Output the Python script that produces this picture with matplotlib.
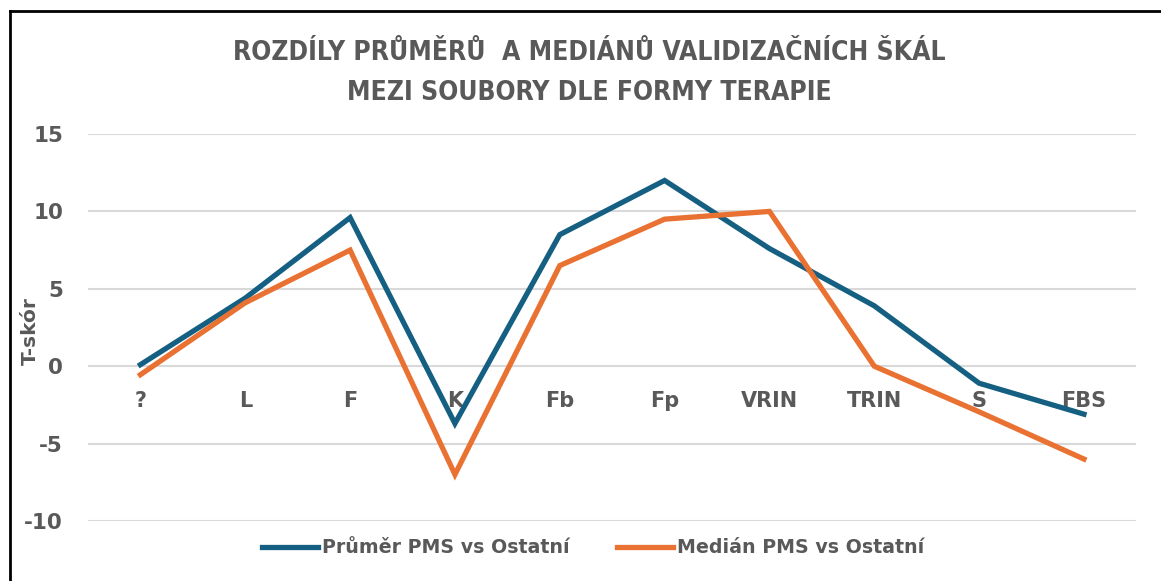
import matplotlib.pyplot as plt
from matplotlib.lines import Line2D

categories = ["?", "L", "F", "K", "Fb", "Fp", "VRIN", "TRIN", "S", "FBS"]
prumer = [0.1, 4.4, 9.6, -3.7, 8.5, 12.0, 7.6, 3.9, -1.1, -3.1]
median = [-0.55, 4.1, 7.5, -7.0, 6.5, 9.5, 10.0, 0.0, -2.95, -6.0]

gray = "#595959"
plt.rcParams["font.family"] = ["DejaVu Sans"]
plt.rcParams["axes.unicode_minus"] = False

fig = plt.figure(figsize=(11.61, 5.81), dpi=100)
ax = fig.add_axes([0.0758, 0.1033, 0.903, 0.666])

x = list(range(len(categories)))
ax.plot(x, prumer, color="#156082", lw=3.8, solid_joinstyle="miter",
        label="Průměr PMS vs Ostatní")
ax.plot(x, median, color="#E97132", lw=3.8, solid_joinstyle="miter",
        label="Medián PMS vs Ostatní")

ax.set_xlim(-0.5, len(categories) - 0.5)
ax.set_ylim(-10, 15)
ax.set_yticks([-10, -5, 0, 5, 10, 15])
ax.grid(axis="y", color="#d9d9d9", lw=1.5)
ax.set_axisbelow(True)
for s in ax.spines.values():
    s.set_visible(False)
ax.spines["bottom"].set_position(("data", 0))

ax.set_xticks(x)
ax.set_xticklabels(categories, fontsize=15, fontweight="bold", color=gray)
ax.tick_params(axis="x", length=0, pad=18)
ax.tick_params(axis="y", length=0, pad=18, labelsize=15.5, labelcolor=gray)
for t in ax.get_yticklabels():
    t.set_fontweight("bold")
ax.set_ylabel("T-skór", fontsize=14.5, fontweight="bold", color=gray)
ax.yaxis.set_label_coords(-0.046, 0.49)

fig.text(0.508, 0.908, "ROZDÍLY PRŮMĚRŮ  A MEDIÁNŮ VALIDIZAČNÍCH ŠKÁL",
         ha="center", va="center", fontsize=19, fontweight="bold", color=gray,
         fontstretch="condensed")
fig.text(0.508, 0.84, "MEZI SOUBORY DLE FORMY TERAPIE",
         ha="center", va="center", fontsize=19, fontweight="bold", color=gray,
         fontstretch="condensed")

leg = fig.legend(loc="center", bbox_to_anchor=(0.511, 0.057), ncol=2,
                 frameon=False, handlelength=2.95, handletextpad=0.2,
                 columnspacing=2.5,
                 prop={"weight": "bold", "size": 13.7})
for t in leg.get_texts():
    t.set_color(gray)

# border of the chart box
fig.add_artist(Line2D([10 / 1161, 10 / 1161], [0, 1 - 11 / 581],
                      color="black", lw=2, transform=fig.transFigure))
fig.add_artist(Line2D([10 / 1161, 1], [1 - 11 / 581, 1 - 11 / 581],
                      color="black", lw=2, transform=fig.transFigure))

fig.savefig("out.png", dpi=100)
